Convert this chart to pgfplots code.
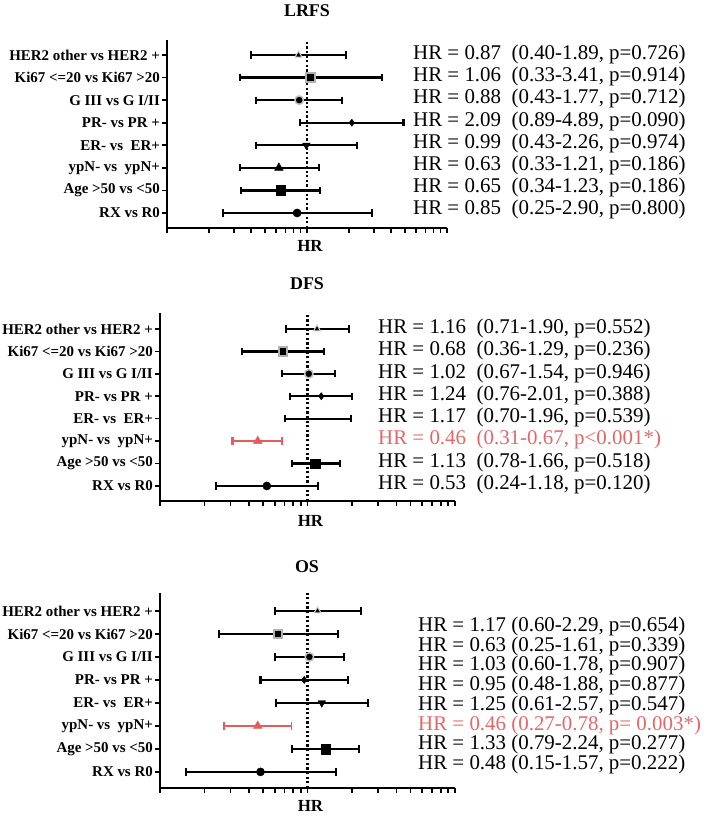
\documentclass[border=0pt]{standalone}
\usepackage{fontspec}
\setmainfont{Liberation Serif}
\usepackage{pgfplots}
\pgfplotsset{compat=1.18}
\definecolor{sigred}{RGB}{230,92,92}
\definecolor{sigtext}{RGB}{226,104,104}
\pgfplotsset{
  myforest/.style={
    scale only axis, xmin=0.1, xmax=10,
    axis x line*=bottom, axis y line*=left,
    axis line style={line width=2.2bp, black},
    xtick={0.1,0.2,0.3,0.4,0.5,0.6,0.7,0.8,0.9,1,2,3,4,5,6,7,8,9,10},
    xticklabels={}, 
    ytick={1,2,3,4,5,6,7,8},
    yticklabels={RX vs R0, Age >50 vs <50, ypN- vs\ \ ypN+, ER- vs\ \ ER+, PR- vs PR +, G III vs G I/II, Ki67 <=20 vs Ki67 >20, HER2 other vs HER2 +},
    tick align=outside, major tick length=5bp,
    every tick/.style={black, line width=1.6bp},
    yticklabel style={font=\fontsize{15}{15}\selectfont\bfseries, inner sep=2bp},
    xlabel={HR},
    xlabel style={font=\fontsize{17}{17}\selectfont\bfseries, at={(axis description cs:0.5,0)}, anchor=center, xshift=3bp},
    clip=false,
  },
  ci/.style={black, line width=2.3bp, mark=|, mark size=3.6bp, mark options={solid, line width=2.1bp}, unbounded coords=jump},
  mHER/.style={only marks, mark=triangle*, mark size=4bp, mark options={fill=black, draw=gray!35, line width=1bp}},
  mKI/.style={only marks, mark=square*, mark size=4.2bp, mark options={fill=black, draw=gray!60, line width=2bp}},
  mG/.style={only marks, mark=*, mark size=4.2bp, mark options={fill=black, draw=gray!50, line width=1.5bp}},
  mPR/.style={only marks, mark=diamond*, mark size=3.6bp, mark options={fill=black, draw=black}},
  mER/.style={only marks, mark=triangle*, mark size=4.4bp, mark options={fill=black, draw=black, rotate=180}},
  mYP/.style={only marks, mark=triangle*, mark size=5bp, mark options={fill=black, draw=black}},
  mAGE/.style={only marks, mark=square*, mark size=4.8bp, mark options={fill=black, draw=black}},
  mRX/.style={only marks, mark=*, mark size=4.1bp, mark options={fill=black, draw=black}},
  vref/.style={black, line width=2.2bp, dash pattern=on 2.2bp off 2.4bp, forget plot},
}
\begin{document}
\begin{tikzpicture}
\useasboundingbox (0,0) rectangle (709bp,818bp);

% ---------------- LRFS ----------------
\begin{axis}[xmode=log, myforest, at={(167bp,590bp)}, anchor=south west,
  width=280bp, height=188bp, ymin=0.335, ymax=8.665,
  xlabel style={yshift=-18bp}]
\addplot[vref] coordinates {(1,0.335) (1,8.665)};
\addplot[ci] coordinates {
 (0.40,8) (1.89,8) (1,nan)
 (0.33,7) (3.41,7) (1,nan)
 (0.43,6) (1.77,6) (1,nan)
 (0.89,5) (4.89,5) (1,nan)
 (0.43,4) (2.26,4) (1,nan)
 (0.33,3) (1.21,3) (1,nan)
 (0.34,2) (1.23,2) (1,nan)
 (0.25,1) (2.90,1)};
\addplot[mHER] coordinates {(0.87,8)};
\addplot[mKI] coordinates {(1.06,7)};
\addplot[mG] coordinates {(0.88,6)};
\addplot[mPR] coordinates {(2.09,5)};
\addplot[mER] coordinates {(0.99,4)};
\addplot[mYP] coordinates {(0.63,3)};
\addplot[mAGE] coordinates {(0.65,2)};
\addplot[mRX] coordinates {(0.85,1)};
\end{axis}

% ---------------- DFS ----------------
\begin{axis}[xmode=log, myforest, at={(160bp,317bp)}, anchor=south west,
  width=295bp, height=188bp, ymin=0.33, ymax=8.71,
  xlabel style={yshift=-20bp}]
\addplot[vref] coordinates {(1,0.33) (1,8.71)};
\addplot[ci] coordinates {
 (0.71,8) (1.90,8) (1,nan)
 (0.36,7) (1.29,7) (1,nan)
 (0.67,6) (1.54,6) (1,nan)
 (0.76,5) (2.01,5) (1,nan)
 (0.70,4) (1.96,4) (1,nan)
 (0.78,2) (1.66,2) (1,nan)
 (0.24,1) (1.18,1)};
\addplot[ci, sigred] coordinates {(0.31,3) (0.67,3)};
\addplot[mHER] coordinates {(1.16,8)};
\addplot[mKI] coordinates {(0.68,7)};
\addplot[mG] coordinates {(1.02,6)};
\addplot[mPR] coordinates {(1.24,5)};
\addplot[mYP, mark options={fill=sigred, draw=sigred}] coordinates {(0.46,3)};
\addplot[mAGE] coordinates {(1.13,2)};
\addplot[mRX] coordinates {(0.53,1)};
\end{axis}

% ---------------- OS ----------------
\begin{axis}[xmode=log, myforest, at={(160bp,30bp)}, anchor=south west,
  width=295bp, height=195bp, ymin=0.30, ymax=8.78,
  xlabel style={yshift=-18bp}]
\addplot[vref] coordinates {(1,0.30) (1,8.78)};
\addplot[ci] coordinates {
 (0.60,8) (2.29,8) (1,nan)
 (0.25,7) (1.61,7) (1,nan)
 (0.60,6) (1.78,6) (1,nan)
 (0.48,5) (1.88,5) (1,nan)
 (0.61,4) (2.57,4) (1,nan)
 (0.79,2) (2.24,2) (1,nan)
 (0.15,1) (1.57,1)};
\addplot[ci, sigred, line width=1.8bp, mark options={solid, line width=1.8bp}] coordinates {(0.27,3) (0.78,3)};
\addplot[mHER] coordinates {(1.17,8)};
\addplot[mKI] coordinates {(0.63,7)};
\addplot[mG] coordinates {(1.03,6)};
\addplot[mPR] coordinates {(0.95,5)};
\addplot[mER] coordinates {(1.25,4)};
\addplot[mYP, mark options={fill=sigred, draw=sigred}] coordinates {(0.46,3)};
\addplot[mAGE] coordinates {(1.33,2)};
\addplot[mRX] coordinates {(0.48,1)};
\end{axis}

% titles
\begin{scope}[every node/.style={font=\fontsize{18}{18}\selectfont\bfseries, inner sep=0pt}]
\node at (307bp,807bp) {LRFS};
\node at (307bp,534bp) {DFS};
\node at (307bp,251bp) {OS};
\end{scope}

% HR annotations
\begin{scope}[every node/.style={font=\fontsize{21}{21}\selectfont, inner sep=0pt, anchor=base west}]
\node at (413bp,758.5bp) {HR = 0.87\ \ (0.40-1.89, p=0.726)};
\node at (413bp,736.3bp) {HR = 1.06\ \ (0.33-3.41, p=0.914)};
\node at (413bp,714.1bp) {HR = 0.88\ \ (0.43-1.77, p=0.712)};
\node at (413bp,691.9bp) {HR = 2.09\ \ (0.89-4.89, p=0.090)};
\node at (413bp,669.7bp) {HR = 0.99\ \ (0.43-2.26, p=0.974)};
\node at (413bp,647.5bp) {HR = 0.63\ \ (0.33-1.21, p=0.186)};
\node at (413bp,625.3bp) {HR = 0.65\ \ (0.34-1.23, p=0.186)};
\node at (413bp,603.1bp) {HR = 0.85\ \ (0.25-2.90, p=0.800)};

\node at (378bp,484.5bp) {HR = 1.16\ \ (0.71-1.90, p=0.552)};
\node at (378bp,462.2bp) {HR = 0.68\ \ (0.36-1.29, p=0.236)};
\node at (378bp,439.9bp) {HR = 1.02\ \ (0.67-1.54, p=0.946)};
\node at (378bp,417.6bp) {HR = 1.24\ \ (0.76-2.01, p=0.388)};
\node at (378bp,395.4bp) {HR = 1.17\ \ (0.70-1.96, p=0.539)};
\node[text=sigtext] at (378bp,373.1bp) {HR = 0.46\ \ (0.31-0.67, p<0.001*)};
\node at (378bp,350.8bp) {HR = 1.13\ \ (0.78-1.66, p=0.518)};
\node at (378bp,328.5bp) {HR = 0.53\ \ (0.24-1.18, p=0.120)};

\node at (418bp,186.5bp) {HR = 1.17 (0.60-2.29, p=0.654)};
\node at (418bp,166.8bp) {HR = 0.63 (0.25-1.61, p=0.339)};
\node at (418bp,147.1bp) {HR = 1.03 (0.60-1.78, p=0.907)};
\node at (418bp,127.4bp) {HR = 0.95 (0.48-1.88, p=0.877)};
\node at (418bp,107.6bp) {HR = 1.25 (0.61-2.57, p=0.547)};
\node[text=sigtext] at (418bp,87.9bp) {HR = 0.46 (0.27-0.78, p= 0.003*)};
\node at (418bp,68.2bp) {HR = 1.33 (0.79-2.24, p=0.277)};
\node at (418bp,48.5bp) {HR = 0.48 (0.15-1.57, p=0.222)};
\end{scope}
\end{tikzpicture}
\end{document}
